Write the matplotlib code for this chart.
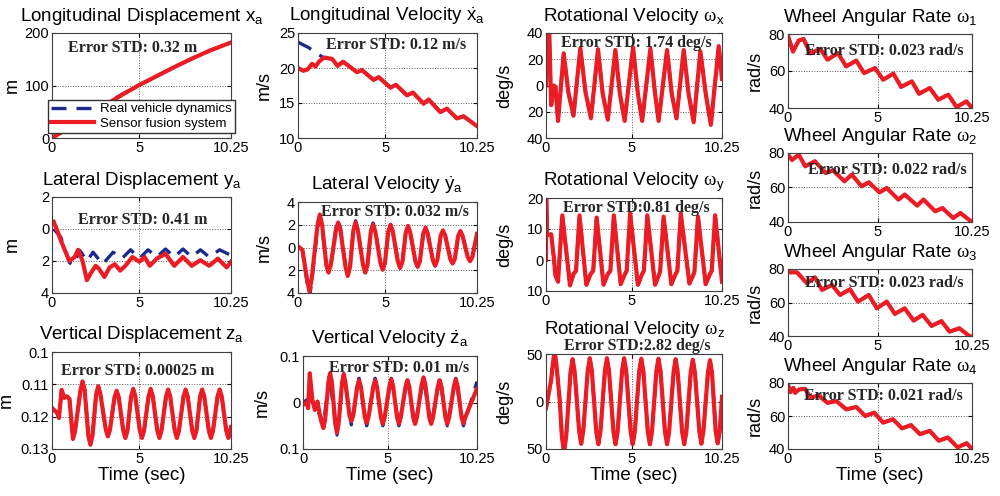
import matplotlib
matplotlib.use("Agg")
import matplotlib.pyplot as plt

plt.rcParams["font.family"] = ["Liberation Sans", "DejaVu Sans"]
plt.rcParams["mathtext.fontset"] = "custom"
plt.rcParams["mathtext.rm"] = "Liberation Sans"
plt.rcParams["mathtext.it"] = "Liberation Sans"
plt.rcParams["mathtext.sf"] = "Liberation Serif"

RED = "#ec1c24"
BLUE = "#1c2a8c"
T_END = 10.25

# ---- longitudinal displacement x_a (m)
t_xa = [0, 0.5, 1, 2, 3, 4, 5, 6, 7, 8, 9, 10.25]
xa_fus = [0, 10, 20, 41, 62, 82, 101, 118, 135, 151, 166, 182]
xa_real = [0, 11.5, 23, 44, 64, 83, 101, 118, 135, 151, 166, 182]

# ---- longitudinal velocity (m/s)
t_vx = [0, 0.3, 0.55, 0.8, 1.0, 1.2, 1.5, 1.95, 2.27, 2.58, 3.38, 3.66, 4.33, 4.62,
        5.29, 5.61, 6.24, 6.58, 7.19, 7.48, 8.15, 8.53, 9.1, 9.48, 10.25]
vx_fus = [20.0, 19.6, 19.8, 20.6, 20.2, 20.9, 21.5, 21.3, 20.3, 20.9, 19.4, 19.7, 18.3, 18.7,
          17.2, 17.6, 16.1, 16.5, 14.9, 15.5, 13.7, 14.2, 12.8, 13.1, 11.7]
vx_real = [23.7, 23.3, 23.0, 22.6, 22.2, 21.9, 21.4, 21.3, 20.3, 20.9, 19.4, 19.7, 18.3, 18.7,
           17.2, 17.6, 16.1, 16.5, 14.9, 15.5, 13.7, 14.2, 12.8, 13.1, 11.7]

# ---- rotational velocity wx (deg/s)
t_wx = [0, 0.08, 0.18, 0.3, 0.45, 0.55, 0.7, 1.03, 1.3, 1.6, 2.0, 2.3, 2.62, 3.03, 3.3, 3.6,
        4.04, 4.3, 4.58, 5.07, 5.35, 5.6, 6.08, 6.35, 6.56, 7.05, 7.32, 7.6, 8.02, 8.3, 8.6,
        8.99, 9.3, 9.6, 10.06, 10.25]
wx_fus = [0, 45, 45, -15, 0, -1, -27, 24.5, -5, -23, 28.4, -5, -25, 27.6, -6, -26,
          27, -6, -27, 29, -6, -27, 28, -6, -27, 27, -6, -25, 27, -6, -28,
          26, -6, -30, 30, 5]

# ---- lateral displacement y_a (m)
t_ya = [0.1, 0.3, 0.5, 0.8, 1.0, 1.3, 1.5, 1.75, 2.0, 2.2, 2.5, 2.7, 3.0, 3.3, 3.6, 3.9,
        4.2, 4.6, 5.0, 5.3, 5.6, 6.0, 6.5, 7.0, 7.5, 8.0, 8.5, 9.0, 9.5, 10.0, 10.25]
ya_fus = [0.45, -0.1, -0.7, -1.5, -2.0, -1.75, -1.3, -2.0, -3.2, -2.8, -2.3, -2.5, -3.0, -2.4,
          -2.2, -2.6, -2.3, -1.75, -2.05, -1.75, -2.3, -1.85, -1.55, -2.3, -1.75, -2.3, -1.95,
          -2.3, -1.85, -2.4, -2.05]
t_ya_real = [0.1, 0.5, 1.0, 1.2, 1.6, 2.0, 2.35, 2.9, 3.5, 4.0, 4.5, 5.0, 5.5, 6.0, 6.5,
             7.0, 7.5, 8.0, 8.5, 9.0, 9.6, 10.25]
ya_real = [0.0, -0.5, -2.1, -2.25, -1.35, -2.0, -1.45, -2.2, -1.45, -1.85, -1.3, -1.85, -1.3,
           -1.75, -1.25, -1.75, -1.25, -1.75, -1.3, -1.75, -1.3, -1.65]

# ---- lateral velocity (m/s)
t_vy = [0, 0.25, 0.52, 0.65, 0.78, 1.12, 1.25, 1.38, 1.62, 1.75, 1.88, 2.17, 2.3, 2.43,
        2.72, 2.85, 2.98, 3.17, 3.3, 3.43, 3.72, 3.85, 3.98, 4.17, 4.3, 4.43, 4.72, 4.85,
        4.98, 5.17, 5.3, 5.43, 5.72, 5.85, 5.98, 6.17, 6.3, 6.43, 6.72, 6.85, 6.98, 7.17,
        7.3, 7.43, 7.72, 7.85, 7.98, 8.17, 8.3, 8.43, 8.72, 8.85, 8.98, 9.17, 9.3, 9.43,
        9.72, 9.85, 9.98, 10.25]
vy_fus = [0.1, -0.2, -2.8, -3.85, -2.8, 2.0, 2.9, 2.0, -1.5, -2.2, -1.5, 1.5, 2.2, 1.5,
          -1.7, -2.5, -1.7, 1.5, 2.2, 1.5, -1.5, -2.2, -1.5, 1.4, 2.0, 1.4, -1.35, -1.95,
          -1.35, 1.4, 2.0, 1.4, -1.25, -1.8, -1.25, 1.3, 1.9, 1.3, -1.2, -1.7, -1.2, 1.2,
          1.75, 1.2, -1.1, -1.6, -1.1, 1.05, 1.5, 1.05, -1.0, -1.4, -1.0, 1.0, 1.45, 1.0,
          -0.85, -1.2, -0.85, 1.2]
vy_real = [0.1, -0.2, -3.1, -4.4, -3.1, 1.8, 2.6, 1.8, -1.6, -2.3, -1.6, 1.7, 2.45, 1.7,
           -1.65, -2.4, -1.65, 1.6, 2.35, 1.6, -1.5, -2.2, -1.5, 1.5, 2.15, 1.5, -1.35, -1.95,
           -1.35, 1.4, 2.0, 1.4, -1.25, -1.8, -1.25, 1.3, 1.9, 1.3, -1.2, -1.7, -1.2, 1.2,
           1.75, 1.2, -1.1, -1.6, -1.1, 1.05, 1.5, 1.05, -1.0, -1.4, -1.0, 1.0, 1.45, 1.0,
           -0.85, -1.2, -0.85, 1.2]

# ---- rotational velocity wy (deg/s)
t_wy = [0, 0.01, 0.06, 0.3, 0.45, 0.55, 0.7, 0.95, 1.4, 1.6, 1.75, 1.95, 2.35, 2.6, 2.75,
        2.95, 3.35, 3.6, 3.75, 3.95, 4.35, 4.6, 4.7, 4.9, 5.35, 5.6, 5.7, 5.9, 6.35, 6.6,
        6.65, 6.85, 7.3, 7.55, 7.65, 7.85, 8.35, 8.6, 8.65, 8.85, 9.3, 9.55, 9.65, 9.85, 10.25]
wy_fus = [0, 21, 8, 8.3, 1, -5, -7, 14.4, -8.2, -4.5, -3.5, 14.4, -8, -4.5, -3.5,
          13.7, -8, -4.5, -3.5, 14.4, -7.8, -4.5, -3.5, 15, -8, -4.5, -3.5, 14.4, -8, -4.5,
          -3.5, 14, -7.8, -4.5, -3.5, 15, -7.6, -4.5, -3.5, 14, -7.8, -4.5, -3.5, 14.4, -7]

# ---- vertical displacement z_a (m)
t_za = [0, 0.3, 0.4, 0.55, 0.7, 0.85, 1.0, 1.2, 1.32, 1.63, 1.75, 1.87, 2.08, 2.2, 2.32,
        2.53, 2.65, 2.77, 3.08, 3.2, 3.32, 3.58, 3.7, 3.82, 4.08, 4.2, 4.32, 4.53, 4.65, 4.77,
        5.03, 5.15, 5.27, 5.53, 5.65, 5.77, 6.03, 6.15, 6.27, 6.53, 6.65, 6.77, 7.03, 7.15,
        7.27, 7.53, 7.65, 7.77, 8.03, 8.15, 8.27, 8.48, 8.6, 8.72, 8.98, 9.1, 9.22, 9.48,
        9.6, 9.72, 9.98, 10.1, 10.25]
za_fus = [-0.1173, -0.1189, -0.1204, -0.1117, -0.1142, -0.1137, -0.1145, -0.1269, -0.1245,
          -0.1118, -0.1091, -0.1118, -0.1258, -0.1287, -0.1258, -0.1130, -0.1106, -0.1130,
          -0.1240, -0.1261, -0.1240, -0.1140, -0.1120, -0.1140, -0.1243, -0.1266, -0.1243,
          -0.1137, -0.1114, -0.1137, -0.1243, -0.1266, -0.1243, -0.1137, -0.1114, -0.1137,
          -0.1243, -0.1266, -0.1243, -0.1138, -0.1116, -0.1138, -0.1243, -0.1266, -0.1243,
          -0.1138, -0.1116, -0.1138, -0.1243, -0.1266, -0.1243, -0.1138, -0.1116, -0.1138,
          -0.1243, -0.1266, -0.1243, -0.1138, -0.1116, -0.1138, -0.1243, -0.1266, -0.1232]

# ---- vertical velocity (m/s)
t_vz = [0, 0.2, 0.3, 0.4, 0.55, 0.7, 0.85, 1.05, 1.2, 1.3, 1.5, 1.6, 1.7, 1.9, 2.0, 2.1,
        2.3, 2.4, 2.5, 2.74, 2.85, 2.96, 3.19, 3.3, 3.41, 3.64, 3.75, 3.86, 4.14, 4.25, 4.36,
        4.59, 4.7, 4.81, 5.09, 5.2, 5.31, 5.54, 5.65, 5.76, 6.04, 6.15, 6.26, 6.49, 6.6, 6.71,
        6.99, 7.1, 7.21, 7.44, 7.55, 7.66, 7.94, 8.05, 8.16, 8.39, 8.5, 8.61, 8.89, 9.0,
        9.11, 9.34, 9.45, 9.56, 10.25]
vz_fus = [-0.005, 0.0, -0.012, 0.063, 0.006, -0.016, 0.002, -0.037, -0.055, -0.038,
          0.044, 0.063, 0.044, -0.045, -0.065, -0.045, 0.043, 0.061, 0.043, -0.028, -0.040,
          -0.028, 0.034, 0.048, 0.034, -0.031, -0.044, -0.031, 0.034, 0.048, 0.034, -0.032,
          -0.046, -0.032, 0.035, 0.050, 0.035, -0.032, -0.046, -0.032, 0.034, 0.048, 0.034,
          -0.032, -0.046, -0.032, 0.038, 0.054, 0.038, -0.032, -0.046, -0.032, 0.034, 0.048,
          0.034, -0.032, -0.046, -0.032, 0.035, 0.050, 0.035, -0.032, -0.045, -0.032, 0.030]
t_vz_real = [0, 0.4, 0.7, 1.05, 1.2, 1.55, 2.0, 2.4, 2.85, 3.3, 3.75, 4.25, 4.7, 5.2, 5.65,
             6.15, 6.6, 7.1, 7.55, 8.05, 8.5, 9.0, 9.45, 10.25]
vz_real = [0, 0.01, -0.01, -0.03, -0.05, 0.058, -0.07, 0.062, -0.048, 0.052, -0.05, 0.052,
           -0.05, 0.052, -0.05, 0.052, -0.05, 0.052, -0.05, 0.052, -0.05, 0.052, -0.05, 0.045]

# ---- rotational velocity wz (deg/s)
t_wz = [0, 0.3, 0.4, 0.5, 0.6, 0.8, 0.93, 1.05, 1.17, 1.43, 1.55, 1.67, 1.93, 2.05, 2.17,
        2.43, 2.55, 2.67, 2.93, 3.05, 3.17, 3.43, 3.55, 3.67, 3.93, 4.05, 4.17, 4.43, 4.55,
        4.67, 4.93, 5.05, 5.17, 5.43, 5.55, 5.67, 5.93, 6.05, 6.17, 6.43, 6.55, 6.67, 6.93,
        7.05, 7.17, 7.43, 7.55, 7.67, 7.93, 8.05, 8.17, 8.43, 8.55, 8.67, 8.93, 9.05, 9.17,
        9.43, 9.55, 9.67, 9.88, 10.0, 10.12, 10.25]
wz_fus = [-7, 22.6, 40, 53, 40, 1.4, -38, -53, -38, 31, 44.5, 31, -31, -44.5, -31, 32, 45.6,
          32, -32, -45, -32, 32, 45.6, 32, -32, -45, -32, 32, 45.6, 32, -32, -45, -32, 32,
          45, 32, -32, -45, -32, 32, 45, 32, -32, -45, -32, 31, 44.5, 31, -32, -45, -32, 31,
          44, 31, -31, -44.5, -31, 30, 43.5, 30, -31, -44, -31, 5]

# ---- wheel angular rates (rad/s)
t_w1 = [0, 0.28, 0.6, 0.87, 1.24, 1.8, 2.2, 2.78, 3.24, 3.8, 4.24, 4.85, 5.3, 5.87, 6.3,
        6.9, 7.3, 7.9, 8.37, 8.93, 9.39, 9.94, 10.25]
w1 = [79, 70.5, 76.5, 77.3, 69.5, 72, 66.1, 69.7, 62.5, 65.6, 58.9, 61.6, 55.3, 58.6, 51.4,
      54.4, 47.7, 50.8, 44.5, 47.2, 40.5, 43.6, 40]
t_w2 = [0, 0.22, 0.6, 0.96, 1.5, 2.1, 2.5, 3.15, 3.55, 4.1, 4.5, 5.1, 5.5, 6.15, 6.5, 7.2,
        7.55, 8.2, 8.6, 9.2, 9.6, 10.25]
w2 = [79, 76, 79, 72.3, 75.2, 68.4, 70, 63.6, 67.5, 60.7, 63, 57.2, 59.7, 53, 55.9, 49.5,
      53, 46.2, 48.1, 42.3, 45.2, 40]
t_w3 = [0, 0.5, 1.05, 1.5, 1.9, 2.45, 2.9, 3.45, 3.9, 4.5, 4.95, 5.5, 5.95, 6.5, 7.0, 7.5,
        8.0, 8.55, 9.0, 9.55, 10.1, 10.25]
w3 = [78, 78, 71.5, 75, 67.5, 70.5, 64.5, 67.9, 60.5, 64.5, 56.5, 60.5, 53.2, 56.5, 49.2,
      52.6, 46, 48.9, 42.6, 44.6, 40, 39.5]
t_w4 = [0, 0.13, 0.3, 0.4, 0.6, 0.95, 1.25, 1.7, 2.2, 2.7, 3.25, 3.8, 4.3, 4.8, 5.3, 5.85,
        6.35, 6.85, 7.35, 7.9, 8.4, 8.9, 9.45, 9.95, 10.25]
w4 = [79, 74.5, 77, 74, 76, 76.5, 71, 72.5, 68, 69, 64, 65.5, 60, 62, 56, 58, 52.5, 54.5,
      49, 51, 45, 47, 41, 43.5, 40]

err_std = ["Error STD: 0.32 m", "Error STD: 0.12 m/s", "Error STD: 1.74 deg/s",
           "Error STD: 0.41 m", "Error STD: 0.032 m/s", "Error STD:0.81 deg/s",
           "Error STD: 0.00025 m", "Error STD: 0.01 m/s", "Error STD:2.82 deg/s",
           "Error STD: 0.023 rad/s", "Error STD: 0.022 rad/s", "Error STD: 0.023 rad/s",
           "Error STD: 0.021 rad/s"]

W, H = 1000, 496
fig = plt.figure(figsize=(W / 100, H / 100), dpi=100)


def px_axes(l, t, r, b):
    return fig.add_axes([l / W, 1 - b / H, (r - l) / W, (b - t) / H])


def style(ax, ylim, yticks, title, ylabel, ylab_x, xlabel=False, pad=8.5):
    ax.set_xlim(0, T_END)
    ax.set_xticks([0, 5, T_END])
    ax.set_xticklabels(["0", "5", "10.25"])
    ax.set_ylim(*ylim)
    ax.set_yticks(yticks)
    ax.set_yticklabels([f"{abs(v):g}" for v in yticks])   # minus signs lost in the original
    ax.grid(True, ls=":", color="0.35", lw=0.7)
    ax.tick_params(direction="in", top=True, right=True, length=3, labelsize=10.5, pad=2)
    for s in ax.spines.values():
        s.set_linewidth(0.8)
        s.set_color("0.25")
    ax.set_title(title, fontsize=13.5, pad=pad)
    ax.set_ylabel(ylabel, fontsize=13)
    # y label anchored (right edge of the rotated text) at a fixed pixel column
    bb = ax.get_position()
    ax.yaxis.set_label_coords((ylab_x / W - bb.x0) / bb.width, 0.5)
    if xlabel:
        ax.set_xlabel("Time (sec)", fontsize=13.5, labelpad=1)


def draw(ax, t, fus, t_real=None, real=None):
    if real is not None:
        ax.plot(t_real if t_real is not None else t, real, color=BLUE, lw=2.4,
                ls=(0, (4.5, 3)), label="Real vehicle dynamics")
    ax.plot(t, fus, color=RED, lw=3, solid_joinstyle="round", label="Sensor fusion system")


def err(x, y, s):
    fig.text(x / W, 1 - y / H, s, ha="left", va="center", fontsize=11.5,
             family="Liberation Serif", weight="bold", color="0.15")


ax = px_axes(52, 33, 231, 138)
draw(ax, t_xa, xa_fus, real=xa_real)
style(ax, (0, 200), [0, 100, 200], "Longitudinal Displacement $x_a$", "m", 21)
ax.legend(loc="lower left", bbox_to_anchor=(48 / W, 1 - 133 / H), bbox_transform=fig.transFigure,
          borderaxespad=0, fontsize=9.5, handlelength=3.2, fancybox=False, framealpha=1,
          edgecolor="0.2", borderpad=0.25, labelspacing=0.15, handletextpad=0.5)
err(68, 48, err_std[0])

ax = px_axes(298, 33, 477, 138)
draw(ax, t_vx, vx_fus, real=vx_real)
style(ax, (10, 25), [10, 15, 20, 25], r"Longitudinal Velocity $\dot{x}_a$", "m/s", 273)
err(326, 45, err_std[1])

ax = px_axes(546, 33, 722, 138)
draw(ax, t_wx, wx_fus, real=wx_fus)
style(ax, (-40, 40), [-40, -20, 0, 20, 40], r"Rotational Velocity $\mathsf{\omega}_x$",
      "deg/s", 513)
err(561, 43, err_std[2])

ax = px_axes(52, 197, 231, 293)
draw(ax, t_ya, ya_fus, t_real=t_ya_real, real=ya_real)
style(ax, (-4, 2), [-4, -2, 0, 2], "Lateral Displacement $y_a$", "m", 21)
err(78, 220, err_std[3])

ax = px_axes(298, 202, 477, 293)
draw(ax, t_vy, vy_fus, real=vy_real)
style(ax, (-4, 4), [-4, -2, 0, 2, 4], r"Lateral Velocity $\dot{y}_a$", "m/s", 273)
err(321, 212, err_std[4])

ax = px_axes(546, 198, 722, 291)
draw(ax, t_wy, wy_fus, real=wy_fus)
style(ax, (-10, 20), [-10, 0, 10, 20], r"Rotational Velocity $\mathsf{\omega}_y$", "deg/s", 513)
err(563, 208, err_std[5])

ax = px_axes(52, 352, 231, 449)
draw(ax, t_za, za_fus, real=za_fus)
style(ax, (-0.13, -0.10), [-0.13, -0.12, -0.11, -0.1], "Vertical Displacement $z_a$", "m", 15,
      xlabel=True, pad=9.5)
err(61, 371, err_std[6])

ax = px_axes(303, 356, 477, 449)
draw(ax, t_vz, vz_fus, t_real=t_vz_real, real=vz_real)
style(ax, (-0.1, 0.1), [-0.1, 0, 0.1], r"Vertical Velocity $\dot{z}_a$", "m/s", 271,
      xlabel=True)
err(329, 368, err_std[7])

ax = px_axes(546, 354, 722, 449)
draw(ax, t_wz, wz_fus, real=wz_fus)
style(ax, (-50, 50), [-50, 0, 50], r"Rotational Velocity $\mathsf{\omega}_z$", "deg/s", 513,
      xlabel=True, pad=14.5)
err(564, 346, err_std[8])

wheel_rects = [(788, 34, 972, 108), (788, 153, 972, 222), (788, 269, 972, 336), (788, 383, 972, 449)]
wheel_t = [t_w1, t_w2, t_w3, t_w4]
wheel_v = [w1, w2, w3, w4]
err_pos = [(805, 51), (808, 170), (805, 283), (804, 396)]
for i in range(4):
    ax = px_axes(*wheel_rects[i])
    draw(ax, wheel_t[i], wheel_v[i], real=wheel_v[i])
    style(ax, (40, 80), [40, 60, 80], r"Wheel Angular Rate $\mathsf{\omega}_%d$" % (i + 1),
          "rad/s", 764, xlabel=(i == 3))
    err(err_pos[i][0], err_pos[i][1], err_std[9 + i])

fig.savefig("out.png", dpi=100)
